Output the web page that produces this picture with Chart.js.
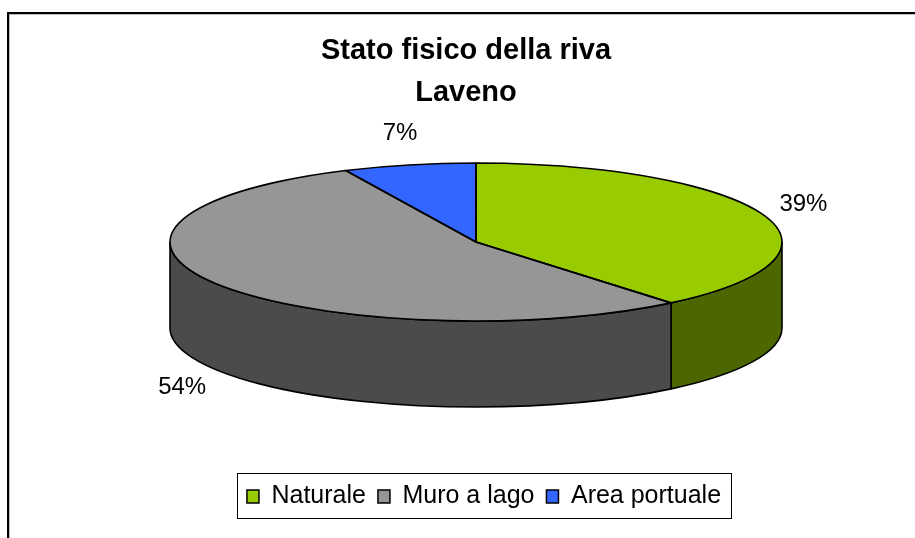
<!DOCTYPE html>
<html>
<head>
<meta charset="utf-8">
<script src="https://cdn.jsdelivr.net/npm/chart.js@4.4.1/dist/chart.umd.min.js"></script>
<style>
    html, body { margin: 0; padding: 0; background: #fff; }
    canvas { display: block; }
</style>
</head>
<body>
<canvas id="riva-chart" width="915" height="538"></canvas>
<script>
const categories = ["Naturale", "Muro a lago", "Area portuale"];
const shares = [39, 54, 7];
const titleLines = ["Stato fisico della riva", "Laveno"];

const topColours = ["#99CC00", "#969696", "#3366FF"];
const sideColours = ["#4C6600", "#4B4B4B", "#1A3380"];

const FONT = "'Liberation Sans', Arial, sans-serif";
// where the flat pie gets squashed to (screen px)
const pie = {cx: 476, cy: 242, rx: 306, ry: 79, depth: 86};
const LEGEND_SHIFT = 18;

function ellipsePoint(angle, dx = 0, dy = 0) {
    return [pie.cx + (pie.rx + dx) * Math.cos(angle), pie.cy + (pie.ry + dy) * Math.sin(angle)];
}

const pie3d = {
    id: "pie3d",
    beforeDraw(chart) {
        // outer frame, only top and left edges are inside the picture
        const ctx = chart.ctx;
        ctx.save();
        ctx.fillStyle = "#000";
        ctx.fillRect(7, 12, chart.width - 7, 2);
        ctx.fillRect(7, 12, 2, chart.height - 12);
        ctx.fillStyle = "#bbb";
        ctx.fillRect(9, 14, chart.width - 9, 1);
        ctx.fillRect(9, 14, 1, chart.height - 14);
        ctx.restore();
    },
    afterLayout(chart) {
        chart.legend.left += LEGEND_SHIFT;
        chart.legend.right += LEGEND_SHIFT;
    },
    beforeDatasetsDraw(chart) {
        const ctx = chart.ctx;
        const arcs = chart.getDatasetMeta(0).data;
        // side walls, only the front half (0..PI) can be seen
        ctx.save();
        ctx.lineWidth = 1.6;
        ctx.strokeStyle = "#000";
        ctx.lineJoin = "round";
        arcs.forEach((arc, i) => {
            const a = Math.max(arc.startAngle, 0);
            const b = Math.min(arc.endAngle, Math.PI);
            if (b <= a) return;
            const [bx, by] = ellipsePoint(b);
            ctx.beginPath();
            ctx.ellipse(pie.cx, pie.cy, pie.rx, pie.ry, 0, a, b);
            ctx.lineTo(bx, by + pie.depth);
            ctx.ellipse(pie.cx, pie.cy + pie.depth, pie.rx, pie.ry, 0, b, a, true);
            ctx.closePath();
            ctx.fillStyle = sideColours[i];
            ctx.fill();
            ctx.stroke();
        });
        ctx.restore();

        // squash the library's round pie onto the top ellipse
        const {x, y, outerRadius} = arcs[0];
        ctx.save();
        ctx.translate(pie.cx, pie.cy);
        ctx.scale(pie.rx / outerRadius, pie.ry / outerRadius);
        ctx.translate(-x, -y);
    },
    afterDatasetsDraw(chart) {
        const ctx = chart.ctx;
        ctx.restore();
        const arcs = chart.getDatasetMeta(0).data;
        const total = shares.reduce((s, v) => s + v, 0);

        ctx.save();
        ctx.lineWidth = 1.6;
        ctx.strokeStyle = "#000";
        ctx.lineJoin = "round";
        arcs.forEach(arc => {
            ctx.beginPath();
            ctx.moveTo(pie.cx, pie.cy);
            ctx.ellipse(pie.cx, pie.cy, pie.rx, pie.ry, 0, arc.startAngle, arc.endAngle);
            ctx.closePath();
            ctx.stroke();
        });

        ctx.fillStyle = "#000";
        ctx.font = "24px " + FONT;
        ctx.textAlign = "center";
        ctx.textBaseline = "middle";
        arcs.forEach((arc, i) => {
            const mid = (arc.startAngle + arc.endAngle) / 2;
            let [lx, ly] = ellipsePoint(mid, 42, 32);
            if (Math.sin(mid) > 0) ly += pie.depth;
            ctx.fillText(Math.round(shares[i] / total * 100) + "%", lx, ly);
        });
        ctx.restore();
    },
    afterDraw(chart) {
        // box round the legend
        const boxes = chart.legend.legendHitBoxes;
        if (!boxes || !boxes.length) return;
        const first = boxes[0];
        const last = boxes[boxes.length - 1];
        const ctx = chart.ctx;
        ctx.save();
        ctx.strokeStyle = "#000";
        ctx.lineWidth = 1;
        const left = Math.round(first.left - 10) + 0.5;
        const right = Math.round(last.left + last.width + 10) + 0.5;
        const top = Math.round(first.top - 11) + 0.5;
        const bottom = Math.round(first.top + first.height + 9) + 0.5;
        ctx.strokeRect(left, top, right - left, bottom - top);
        ctx.restore();
    }
};

const baseLabels = Chart.overrides.pie.plugins.legend.labels.generateLabels;

new Chart(document.getElementById("riva-chart"), {
    type: "pie",
    data: {
        labels: categories,
        datasets: [{
            data: shares,
            backgroundColor: topColours,
            borderWidth: 0,
            clip: false
        }]
    },
    options: {
        responsive: false,
        animation: false,
        events: [],
        layout: {padding: {top: 0, left: 17, right: 0, bottom: 19}},
        plugins: {
            tooltip: {enabled: false},
            title: {
                display: true,
                text: titleLines,
                color: "#000",
                font: {family: FONT, size: 29, weight: "bold", lineHeight: 1.45},
                padding: {top: 30, bottom: 10}
            },
            legend: {
                position: "bottom",
                labels: {
                    color: "#000",
                    font: {family: FONT, size: 25},
                    boxWidth: 12,
                    boxHeight: 13,
                    padding: 12,
                    generateLabels(chart) {
                        return baseLabels(chart).map(item => ({...item, lineWidth: 1.5, strokeStyle: "#000"}));
                    }
                }
            }
        }
    },
    plugins: [pie3d]
});
</script>
</body>
</html>
